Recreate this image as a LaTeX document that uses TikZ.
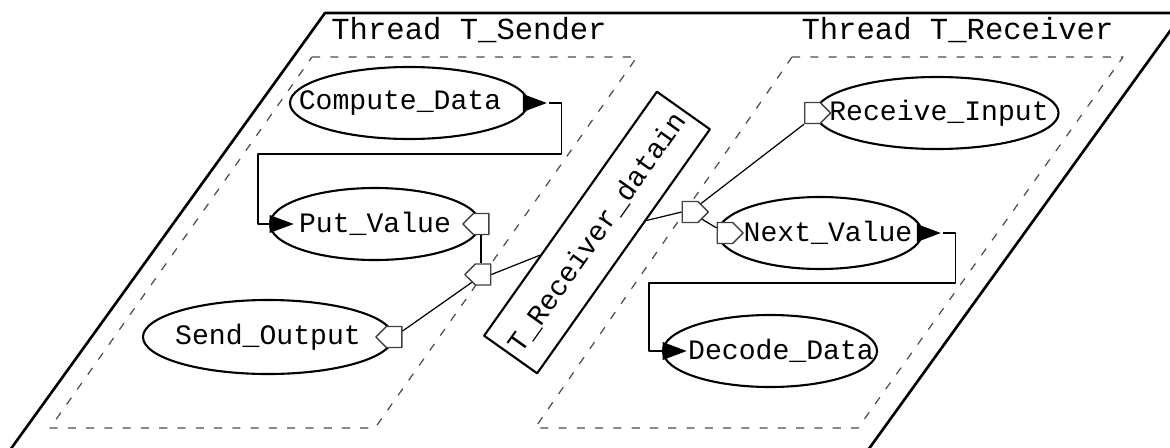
\documentclass[tikz,border=0pt]{standalone}
\usepackage{fontspec}
\setmonofont{Liberation Mono}
\usetikzlibrary{shapes.geometric,shapes.symbols}
\newcommand{\cname}[2][0pt]{\makebox[0pt]{\kern#1#2\kern-#1}}
\begin{document}
\begin{tikzpicture}[line join=round,font=\ttfamily\fontsize{8}{10}\selectfont,
		comp/.style={ellipse,draw,line width=0.6pt,minimum height=0.72cm,inner sep=0pt},
		dport/.style={signal,draw=black!75,fill=white,line width=0.4pt,minimum width=0.26cm,minimum height=0.21cm,inner sep=0pt},
		eport/.style={isosceles triangle,isosceles triangle stretches,fill=black,minimum width=0.18cm,minimum height=0.24cm,inner sep=0pt},
		frame/.style={dash pattern=on 2.3pt off 2.9pt,draw=black!70,line width=0.35pt},
		link/.style={line width=0.35pt}]
	\useasboundingbox (0,0) rectangle (11.70,4.47);
	\clip (0,0) rectangle (11.70,4.47);
	\draw[line width=0.75pt] (0.05,-0.1)--(3.25,4.34)--(11.83,4.34)--(8.63,-0.1);
	\draw[frame] (3.12,3.90)--(6.37,3.90)--(3.75,0.19)--(0.50,0.19)--cycle;
	\draw[frame] (7.92,3.90)--(11.23,3.90)--(8.58,0.19)--(5.35,0.19)--cycle;
	\node[anchor=base,font=\ttfamily\fontsize{8.7}{10}\selectfont] (tsender) at (4.69,4.08) {Thread T\_Sender};
	\node[anchor=base,font=\ttfamily\fontsize{8.7}{10}\selectfont] (treceiver) at (9.575,4.08) {Thread T\_Receiver};

	\node[comp,minimum width=2.38cm] (cd) at (4.09,3.44) {\cname[-0.09cm]{Compute\_Data}};
	\node[comp,minimum width=2.10cm] (pv) at (3.75,2.23) {\cname{Put\_Value}};
	\node[comp,minimum width=2.50cm,minimum height=0.74cm] (so) at (2.68,1.10) {\cname{Send\_Output}};
	\node[comp,minimum width=2.43cm] (ri) at (9.37,3.34) {\cname[0.02cm]{Receive\_Input}};
	\node[comp,minimum width=2.04cm] (nv) at (8.20,2.14) {\cname[0.08cm]{Next\_Value}};
	\node[comp,minimum width=2.14cm] (dd) at (7.70,0.96) {\cname[0.11cm]{Decode\_Data}};
	\node[draw,line width=0.6pt,rotate=54.7,minimum width=2.99cm,minimum height=0.65cm,inner sep=0pt] (datain) at (5.97,2.145) {T\_Receiver\_datain};

	\node[dport,signal to=west] (pv_out) at (pv.east) {};
	\node[dport,signal to=west] (ts_port) at (4.83,1.725) {};
	\node[dport,signal to=west] (so_out) at (so.east) {};
	\node[dport,signal to=east] (tr_port) at (6.90,2.35) {};
	\node[dport,signal to=east] (ri_in) at ([xshift=-0.02cm]ri.west) {};
	\node[dport,signal to=east] (nv_in) at ([xshift=0.08cm]nv.west) {};
	\node[eport] (cd_out) at (cd.east) {};
	\node[eport,anchor=west] (pv_in) at (pv.west) {};
	\node[eport] (nv_out) at (nv.east) {};
	\node[eport,anchor=west] (dd_in) at (dd.west) {};

	\coordinate (bend1) at (2.58,2.93);
	\coordinate (bend2) at (6.49,1.64);
	\draw[link] (cd_out.east) -- ++(0.13,0) |- (bend1) |- (pv_in.west);
	\draw[link] (pv_out.south) -- (pv_out.south |- ts_port.north);
	\draw[link] (so_out) -- (ts_port);
	\draw[link] (ts_port.east) -- (datain);
	\draw[link] (datain) -- (tr_port.west);
	\draw[link] (tr_port) -- (ri_in.south west);
	\draw[link] (tr_port) -- (nv_in);
	\draw[link] (nv_out.east) -- ++(0.13,0) |- (bend2) |- (dd_in.west);
\end{tikzpicture}
\end{document}
